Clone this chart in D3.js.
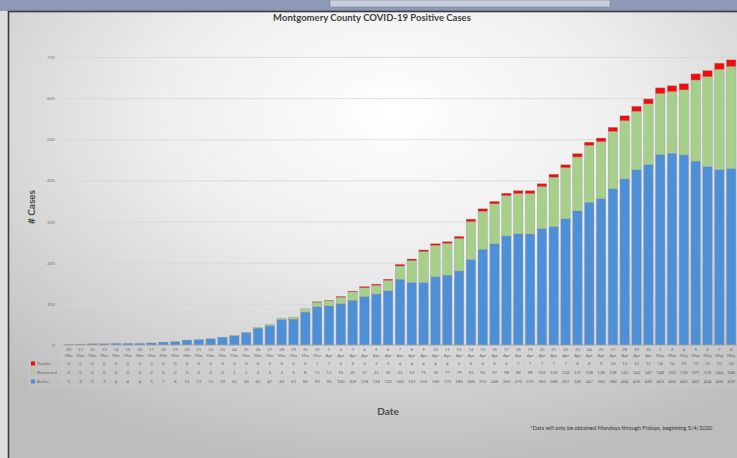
<!DOCTYPE html>
<html>
<head>
<meta charset="utf-8">
<script src="https://cdn.jsdelivr.net/npm/d3@7"></script>
<style>
  body { margin: 0; background: #e4e4e4; }
  svg { display: block; font-family: Lato, "Open Sans", sans-serif; }
</style>
</head>
<body>
<svg id="chart" width="737" height="458"></svg>
<script>
// one column per reporting day
const dayLabels = [
  "10","11","12","13","14","15","16","17","18","19","20","21","22","23","24","25","26","27","28","29","30","31",
  "1","2","3","4","5","6","7","8","9","10","11","13","14","15","16","17","18","19","20","21","22","23","24","25",
  "27","28","29","30",
  "1","2","4","5","6","7","8"
];
const monthLabels = [
  "Mar","Mar","Mar","Mar","Mar","Mar","Mar","Mar","Mar","Mar","Mar","Mar","Mar","Mar","Mar","Mar","Mar","Mar","Mar","Mar","Mar","Mar",
  "Apr","Apr","Apr","Apr","Apr","Apr","Apr","Apr","Apr","Apr","Apr","Apr","Apr","Apr","Apr","Apr","Apr","Apr","Apr","Apr","Apr","Apr","Apr","Apr",
  "Apr","Apr","Apr","Apr",
  "May","May","May","May","May","May","May"
];
const active = [
  1, 2, 3, 3, 4, 4, 4, 5, 7, 8, 12, 13, 15, 19, 22, 30, 41, 47, 62, 63, 80, 93, 95, 100, 109, 118,
  124, 132, 160, 152, 152, 166, 170, 180, 208, 233, 246, 265, 270, 270, 283, 288, 307, 326, 347, 356,
  380, 404, 426, 439, 463, 466, 462, 447, 434, 426, 429
];
const recovered = [
  0, 0, 0, 0, 0, 0, 0, 0, 0, 0, 0, 0, 0, 0, 1, 1, 2, 3, 3, 5, 8, 11, 13, 16, 20, 21,
  21, 25, 32, 53, 75, 76, 77, 79, 92, 92, 97, 98, 98, 98, 102, 120, 124, 131, 138, 138,
  139, 141, 142, 147, 148, 150, 158, 197, 218, 244, 248
];
const deaths = [
  0, 0, 0, 0, 0, 0, 0, 0, 0, 0, 0, 0, 0, 0, 0, 0, 0, 0, 0, 0, 0, 1, 1, 2, 2, 3,
  3, 3, 4, 4, 4, 4, 4, 5, 6, 6, 6, 6, 7, 7, 7, 7, 7, 8, 8, 9,
  10, 12, 12, 12, 14, 14, 15, 15, 15, 15, 16
];
const yTicks = [0, 100, 200, 300, 400, 500, 600, 700];
const stackKeys = ["Active", "Recovered", "Deaths"];
const tableRows = ["Deaths", "Recovered", "Active"];

const svg = d3.select("#chart");
const W = 737, H = 458;

const rows = dayLabels.map((d, i) => ({
  id: d + " " + monthLabels[i],
  day: d,
  month: monthLabels[i],
  Active: active[i],
  Recovered: recovered[i],
  Deaths: deaths[i]
}));

const color = d3.scaleOrdinal()
    .domain(stackKeys)
    .range(["#4e90d8", "#a6d08a", "#f20d0d"]);

// background: window band + grey slide with a soft light center
const defs = svg.append("defs");
const grad = defs.append("radialGradient")
    .attr("id", "bg")
    .attr("cx", "52%").attr("cy", "22%").attr("r", "78%");
grad.append("stop").attr("offset", "0%").attr("stop-color", "#ffffff");
grad.append("stop").attr("offset", "40%").attr("stop-color", "#eeeeee");
grad.append("stop").attr("offset", "100%").attr("stop-color", "#bdbdbd");

svg.append("rect").attr("width", W).attr("height", H).attr("fill", "#dedede");
svg.append("rect").attr("width", W).attr("height", 11).attr("fill", "#8e99b6");
svg.append("rect")
    .attr("x", 330).attr("y", 0).attr("width", 280).attr("height", 7)
    .attr("fill", "#c9cedb").attr("stroke", "#7a84a0").attr("stroke-width", 0.6);
svg.append("rect")
    .attr("x", 8.5).attr("y", 11.5).attr("width", W).attr("height", H)
    .attr("fill", "url(#bg)")
    .attr("stroke", "#3b3b3b").attr("stroke-width", 1.6);

// scales
const x = d3.scaleBand()
    .domain(rows.map(d => d.id))
    .range([62.8, 737.1])
    .paddingInner(0.2)
    .paddingOuter(0.1);

const y = d3.scaleLinear()
    .domain([0, 700])
    .range([345, 57]);

// gridlines + y labels
svg.append("g")
    .attr("transform", "translate(62.8,0)")
    .call(d3.axisLeft(y).tickValues(yTicks).tickSize(-(W - 62.8)).tickPadding(8))
    .call(g => g.select(".domain").remove())
    .call(g => g.selectAll(".tick line").attr("stroke", "#d6d6d6").attr("stroke-width", 0.8))
    .call(g => g.selectAll(".tick text")
        .attr("fill", "#7a7a7a")
        .attr("font-size", 4.5)
        .attr("font-family", "Lato, sans-serif"));

// stacked bars
const series = d3.stack().keys(stackKeys)(rows);

svg.append("g")
  .selectAll("g")
  .data(series)
  .join("g")
    .attr("fill", d => color(d.key))
  .selectAll("rect")
  .data(d => d)
  .join("rect")
    .attr("x", d => x(d.data.id))
    .attr("y", d => y(d[1]))
    .attr("width", x.bandwidth())
    .attr("height", d => Math.max(0, y(d[0]) - y(d[1])))
    .attr("stroke", "#9a9a9a")
    .attr("stroke-width", 0.35);

// baseline
svg.append("line")
    .attr("x1", 62.8).attr("x2", W)
    .attr("y1", y(0)).attr("y2", y(0))
    .attr("stroke", "#a0a0a0").attr("stroke-width", 0.8);

// data table under the axis
const tableTop = 345, headerH = 14, rowH = 9;
const tableLeft = 29;
const table = svg.append("g").attr("font-size", 4.3).attr("fill", "#666");

const hLines = [tableTop + headerH, tableTop + headerH + rowH, tableTop + headerH + 2 * rowH, tableTop + headerH + 3 * rowH];
table.selectAll("line.h")
  .data(hLines)
  .join("line")
    .attr("class", "h")
    .attr("x1", tableLeft).attr("x2", W)
    .attr("y1", d => d).attr("y2", d => d)
    .attr("stroke", "#cdcdcd").attr("stroke-width", 0.6);

table.append("line")
    .attr("x1", tableLeft).attr("x2", tableLeft)
    .attr("y1", hLines[0]).attr("y2", hLines[3])
    .attr("stroke", "#cdcdcd").attr("stroke-width", 0.6);

table.selectAll("line.v")
  .data(rows)
  .join("line")
    .attr("class", "v")
    .attr("x1", d => x(d.id) - x.step() * x.paddingInner() / 2)
    .attr("x2", d => x(d.id) - x.step() * x.paddingInner() / 2)
    .attr("y1", tableTop).attr("y2", hLines[3])
    .attr("stroke", "#cdcdcd").attr("stroke-width", 0.6);

table.selectAll("text.day")
  .data(rows)
  .join("text")
    .attr("class", "day")
    .attr("x", d => x(d.id) + x.bandwidth() / 2)
    .attr("y", tableTop + 6)
    .attr("text-anchor", "middle")
    .text(d => d.day);

table.selectAll("text.month")
  .data(rows)
  .join("text")
    .attr("class", "month")
    .attr("x", d => x(d.id) + x.bandwidth() / 2)
    .attr("y", tableTop + 12)
    .attr("text-anchor", "middle")
    .text(d => d.month);

tableRows.forEach((key, r) => {
  const cy = hLines[r] + rowH / 2;
  table.append("rect")
      .attr("x", 31).attr("y", cy - 2).attr("width", 4).attr("height", 4)
      .attr("fill", color(key));
  table.append("text")
      .attr("x", 37).attr("y", cy + 1.5)
      .text(key);
  table.selectAll("text.v" + r)
    .data(rows)
    .join("text")
      .attr("x", d => x(d.id) + x.bandwidth() / 2)
      .attr("y", cy + 1.5)
      .attr("text-anchor", "middle")
      .text(d => d[key]);
});

// titles
svg.append("text")
    .attr("x", 372).attr("y", 21)
    .attr("text-anchor", "middle")
    .attr("font-size", 9.5)
    .attr("font-weight", 700)
    .attr("fill", "#3f3f3f")
    .text("Montgomery County COVID-19 Positive Cases");

svg.append("text")
    .attr("transform", "translate(35,207) rotate(-90)")
    .attr("text-anchor", "middle")
    .attr("font-size", 10)
    .attr("font-weight", 700)
    .attr("fill", "#4a4a4a")
    .text("# Cases");

svg.append("text")
    .attr("x", 388).attr("y", 415)
    .attr("text-anchor", "middle")
    .attr("font-size", 10)
    .attr("font-weight", 700)
    .attr("fill", "#4a4a4a")
    .text("Date");

svg.append("text")
    .attr("x", 530).attr("y", 430)
    .attr("font-size", 5.6)
    .attr("fill", "#333")
    .text("*Data will only be obtained Mondays through Fridays, beginning 5/4/2020");
</script>
</body>
</html>
